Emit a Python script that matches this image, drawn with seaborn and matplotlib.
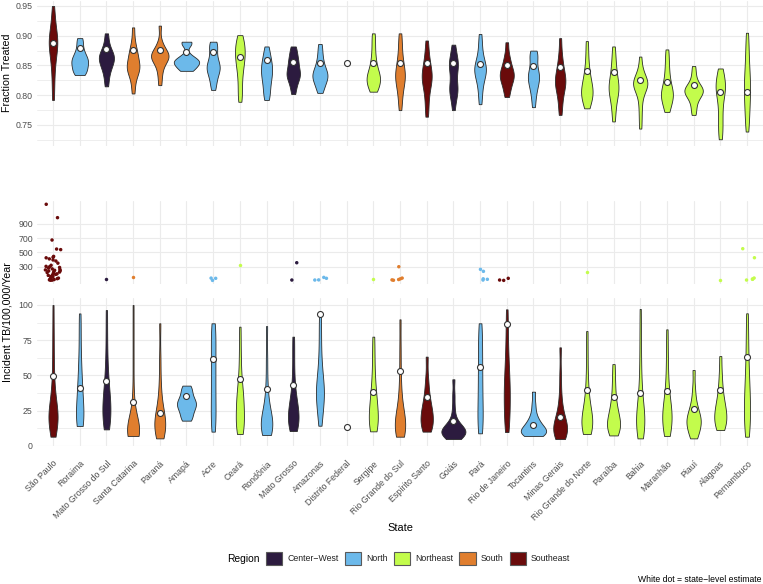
import numpy as np
import pandas as pd
import matplotlib
matplotlib.use("Agg")
import matplotlib.pyplot as plt
from matplotlib.patches import Patch
import seaborn as sns

# ---------------- data ----------------
states = ["São Paulo", "Roraima", "Mato Grosso do Sul", "Santa Catarina", "Paraná",
          "Amapá", "Acre", "Ceará", "Rondônia", "Mato Grosso", "Amazonas",
          "Distrito Federal", "Sergipe", "Rio Grande do Sul", "Espírito Santo", "Goiás",
          "Pará", "Rio de Janeiro", "Tocantins", "Minas Gerais", "Rio Grande do Norte",
          "Paraíba", "Bahia", "Maranhão", "Piauí", "Alagoas", "Pernambuco"]
regions = ["Southeast", "North", "Center-West", "South", "South",
           "North", "North", "Northeast", "North", "Center-West", "North",
           "Center-West", "Northeast", "South", "Southeast", "Center-West",
           "North", "Southeast", "North", "Southeast", "Northeast",
           "Northeast", "Northeast", "Northeast", "Northeast", "Northeast", "Northeast"]
region_order = ["Center-West", "North", "Northeast", "South", "Southeast"]
region_labels = ["Center\u2212West", "North", "Northeast", "South", "Southeast"]
region_colors = ["#2c1b3f", "#6cb9ea", "#c3fc4c", "#e07e2e", "#6a0b0b"]

# state-level estimates (white dots)
fraction_estimate = [0.8875, 0.880, 0.877, 0.876, 0.876, 0.873, 0.873, 0.864, 0.859, 0.856,
                     0.855, 0.855, 0.854, 0.854, 0.854, 0.854, 0.852, 0.851, 0.849, 0.847,
                     0.840, 0.839, 0.826, 0.823, 0.818, 0.806, 0.806]
incidence_estimate = [49.5, 41.2, 46.0, 31.3, 23.5, 35.3, 61.4, 47.2, 40.3, 43.4,
                      93.4, 13.5, 38.4, 53.0, 34.8, 17.8, 55.7, 86.3, 14.7, 20.1,
                      39.6, 34.4, 37.2, 39.1, 26.1, 39.6, 63.3]

# sub-state distributions: fraction treated
fraction_samples = [
    [0.792, 0.812, 0.830, 0.845, 0.856, 0.865, 0.872, 0.878, 0.883, 0.887, 0.891, 0.895, 0.900, 0.906, 0.913, 0.922, 0.935, 0.950],
    [0.834, 0.837, 0.841, 0.845, 0.849, 0.853, 0.856, 0.859, 0.862, 0.866, 0.871, 0.878, 0.888, 0.896],
    [0.815, 0.828, 0.838, 0.845, 0.850, 0.854, 0.858, 0.861, 0.864, 0.867, 0.870, 0.874, 0.880, 0.890, 0.904],
    [0.803, 0.818, 0.830, 0.837, 0.841, 0.844, 0.847, 0.850, 0.853, 0.858, 0.864, 0.869, 0.874, 0.880, 0.893, 0.914],
    [0.817, 0.832, 0.843, 0.852, 0.857, 0.860, 0.863, 0.865, 0.867, 0.869, 0.872, 0.875, 0.880, 0.890, 0.917],
    [0.841, 0.843, 0.846, 0.849, 0.852, 0.854, 0.856, 0.857, 0.858, 0.860, 0.863, 0.867, 0.886, 0.888, 0.890],
    [0.809, 0.818, 0.826, 0.833, 0.838, 0.842, 0.845, 0.848, 0.851, 0.855, 0.860, 0.867, 0.875, 0.882, 0.887, 0.890],
    [0.789, 0.800, 0.812, 0.825, 0.836, 0.845, 0.852, 0.858, 0.863, 0.868, 0.873, 0.878, 0.883, 0.888, 0.894, 0.901],
    [0.792, 0.800, 0.808, 0.816, 0.823, 0.829, 0.834, 0.839, 0.843, 0.848, 0.853, 0.858, 0.864, 0.872, 0.882],
    [0.802, 0.812, 0.820, 0.826, 0.830, 0.833, 0.836, 0.839, 0.843, 0.848, 0.853, 0.858, 0.862, 0.868, 0.876, 0.882],
    [0.804, 0.812, 0.818, 0.823, 0.827, 0.830, 0.833, 0.836, 0.839, 0.843, 0.848, 0.855, 0.863, 0.874, 0.886],
    [],
    [0.806, 0.810, 0.815, 0.819, 0.823, 0.826, 0.829, 0.832, 0.835, 0.839, 0.845, 0.853, 0.862, 0.875, 0.890, 0.904],
    [0.775, 0.790, 0.802, 0.812, 0.819, 0.825, 0.829, 0.833, 0.837, 0.842, 0.848, 0.855, 0.864, 0.876, 0.890, 0.904],
    [0.764, 0.780, 0.795, 0.807, 0.816, 0.822, 0.827, 0.831, 0.835, 0.840, 0.846, 0.853, 0.862, 0.875, 0.892],
    [0.775, 0.790, 0.800, 0.806, 0.810, 0.814, 0.820, 0.830, 0.840, 0.846, 0.850, 0.854, 0.858, 0.865, 0.875, 0.885],
    [0.785, 0.800, 0.812, 0.822, 0.829, 0.834, 0.838, 0.842, 0.845, 0.848, 0.852, 0.857, 0.864, 0.875, 0.888, 0.903],
    [0.797, 0.806, 0.814, 0.820, 0.825, 0.829, 0.832, 0.835, 0.838, 0.842, 0.847, 0.853, 0.860, 0.870, 0.889],
    [0.780, 0.795, 0.806, 0.814, 0.820, 0.825, 0.829, 0.833, 0.837, 0.842, 0.848, 0.862, 0.866, 0.870, 0.875],
    [0.767, 0.782, 0.795, 0.805, 0.812, 0.817, 0.821, 0.825, 0.829, 0.834, 0.840, 0.848, 0.858, 0.872, 0.896],
    [0.778, 0.786, 0.792, 0.797, 0.801, 0.805, 0.809, 0.813, 0.818, 0.824, 0.831, 0.840, 0.852, 0.870, 0.891],
    [0.756, 0.772, 0.785, 0.795, 0.802, 0.807, 0.811, 0.815, 0.820, 0.826, 0.833, 0.842, 0.853, 0.866, 0.882],
    [0.744, 0.762, 0.778, 0.792, 0.803, 0.809, 0.813, 0.816, 0.818, 0.820, 0.822, 0.824, 0.827, 0.831, 0.837, 0.847, 0.865],
    [0.772, 0.780, 0.787, 0.793, 0.797, 0.800, 0.803, 0.807, 0.812, 0.818, 0.826, 0.836, 0.848, 0.862, 0.877],
    [0.767, 0.776, 0.785, 0.792, 0.797, 0.800, 0.803, 0.805, 0.807, 0.809, 0.811, 0.813, 0.816, 0.820, 0.827, 0.837, 0.849],
    [0.726, 0.738, 0.750, 0.762, 0.775, 0.788, 0.798, 0.805, 0.810, 0.814, 0.818, 0.823, 0.830, 0.838, 0.845],
    [0.739, 0.752, 0.765, 0.776, 0.786, 0.795, 0.803, 0.811, 0.819, 0.827, 0.835, 0.845, 0.858, 0.872, 0.888, 0.905],
]

# sub-state distributions: incidence (values up to 100)
incidence_low = [
    [6.4, 10, 13, 15, 17, 18.5, 20, 21, 22.5, 24, 26, 29, 33, 38, 45, 55, 68, 82, 100],
    [14, 15, 17, 20, 23, 27, 31, 36, 41, 47, 55, 65, 80, 94],
    [11.6, 14, 17, 20, 23, 26, 29, 32, 35, 39, 44, 52, 62, 78, 96.4],
    [6.9, 7.3, 7.8, 8.3, 8.8, 9.3, 9.8, 10.3, 10.8, 11.3, 11.9, 12.6, 13.5, 14.8, 17, 21, 28, 40, 60, 80, 100],
    [5.2, 7, 9, 11, 13, 14.5, 16, 17.5, 19, 21, 24, 28, 35, 45, 62, 87],
    [17.8, 20, 23, 25.5, 27.5, 29, 30.5, 32, 34, 37, 40, 42.7],
    [10, 14, 19, 24, 30, 36, 42, 48, 54, 60, 66, 72, 78, 83, 87],
    [8.3, 10, 12, 14.5, 17, 20, 23, 26, 29, 32, 35, 38, 42, 48, 58, 70, 84.6],
    [7.6, 8.5, 10, 11.5, 13, 14.5, 16, 17.5, 19, 21, 24, 28, 34, 45, 62, 85],
    [10.4, 12, 14, 16, 18, 20, 22, 24, 26.5, 29, 32, 36, 42, 52, 65, 77.5],
    [14.2, 20, 26, 30, 33, 36, 38.5, 41, 44, 48, 53, 60, 70, 82, 93],
    [],
    [10.2, 12, 14, 16.5, 19, 22, 25, 28, 31, 35, 40, 46, 55, 66, 77.5],
    [6.4, 8, 9.5, 11, 12.5, 14, 15.5, 17, 19, 21.5, 25, 30, 38, 50, 68, 89.8],
    [10, 11.5, 13.5, 16, 18, 20, 22, 24.5, 27, 30, 34, 40, 48, 63.3],
    [4.7, 5.8, 6.8, 7.6, 8.3, 8.9, 9.4, 9.9, 10.4, 11, 11.6, 12.3, 13.2, 14.5, 16.5, 20, 27, 36, 47.2],
    [8.8, 12, 16, 21, 26, 31, 37, 43, 49, 55, 61, 68, 75, 81, 87],
    [9.7, 14, 19, 24, 28.5, 33, 37, 41, 45, 50, 56, 63, 72, 84, 96.9],
    [6.9, 7.6, 8.3, 9, 9.6, 10.2, 10.9, 11.7, 12.6, 14, 16, 17.5, 19.5, 24, 30, 38.4],
    [4.7, 6.5, 8, 9.3, 10.5, 11.5, 12.6, 13.8, 15.2, 17, 19.5, 23, 28, 36, 50, 69.9],
    [8.3, 10, 12, 13.5, 15, 16.5, 18, 20, 22, 25, 28.5, 33, 40, 50, 65, 81.5],
    [7.3, 9, 11, 13, 14.5, 16, 17.5, 19.5, 22, 25, 28.5, 33, 40, 48, 58],
    [5.2, 7.5, 10, 12.5, 15, 17, 19, 21, 23.5, 26, 30, 35, 42, 52, 65, 80, 97.2],
    [6.9, 9, 11.5, 14, 16.5, 19, 21, 23, 25, 27.5, 30, 34, 39, 46, 56, 68, 82.7],
    [5.2, 7.5, 10, 12.5, 14.5, 16, 17.5, 19, 20.5, 22.5, 25, 28, 33, 41, 53.8],
    [11.1, 13, 15, 17, 19, 21, 23, 25, 27.5, 30, 33.5, 38, 44, 52, 63.7],
    [6.4, 10, 14, 18, 22, 26, 30, 34, 38, 43, 48, 55, 63, 72, 83, 94.1],
]

# sub-state incidence values above 100 (upper strip)
incidence_high = [
    [1177, 989, 675, 548, 540, 445, 432, 425, 410, 395, 380, 350, 320, 305, 300, 290, 280,
     270, 262, 255, 250, 245, 240, 232, 225, 218, 210, 200, 192, 185, 178, 170, 162, 155,
     148, 140, 132, 125, 120, 115, 112, 110],
    [], [123], [159], [], [], [137, 140, 108], [328], [], [356, 113],
    [137, 113, 150, 115], [], [123], [300, 140, 130, 120, 115, 110], [], [],
    [235, 263, 130, 123, 113], [113, 108, 137], [], [], [220], [], [], [], [], [108],
    [553, 426, 141, 123, 113, 127],
]

frac_ticks = [0.75, 0.80, 0.85, 0.90, 0.95]
frac_minor = [0.725, 0.775, 0.825, 0.875, 0.925]
high_ticks = [300, 500, 700, 900]
low_ticks = [0, 25, 50, 75, 100]
low_minor = [12.5, 37.5, 62.5, 87.5]

# ---------------- tidy frames ----------------
def long_frame(samples):
    rows = []
    for s, r, vals in zip(states, regions, samples):
        for v in vals:
            rows.append((s, r, v))
    return pd.DataFrame(rows, columns=["state", "region", "value"])

df_frac = long_frame(fraction_samples)
df_low = long_frame(incidence_low)
df_high = long_frame(incidence_high)
est_frac = pd.DataFrame({"state": states, "value": fraction_estimate})
est_inc = pd.DataFrame({"state": states, "value": incidence_estimate})
palette = dict(zip(region_order, region_colors))

# ---------------- figure ----------------
sns.set_theme(style="white")
plt.rcParams["font.family"] = ["Liberation Sans", "DejaVu Sans"]

W, H = 763, 584
fig = plt.figure(figsize=(W / 100, H / 100), dpi=100)
fig.patch.set_facecolor("white")

def frac_rect(top_px, bottom_px, left_px=37, right_px=763):
    return [left_px / W, 1 - bottom_px / H, (right_px - left_px) / W, (bottom_px - top_px) / H]

ax_top = fig.add_axes(frac_rect(1, 146))
ax_mid = fig.add_axes(frac_rect(200.5, 283.8))
ax_bot = fig.add_axes(frac_rect(298.3, 445.8))

grid_col = "#ebebeb"
tick_col = "#4d4d4d"
vkw = dict(x="state", y="value", hue="region", order=states, hue_order=region_order,
           palette=palette, dodge=False, cut=0, inner=None, density_norm="area",
           common_norm=True, width=0.95, linewidth=0.6, linecolor="#2b2b2b",
           bw_adjust=0.7, saturation=1, legend=False)

sns.violinplot(data=df_frac, ax=ax_top, **vkw)
sns.stripplot(data=est_frac, x="state", y="value", order=states, jitter=False,
              color="white", edgecolor="#333333", linewidth=0.8, size=4.3, ax=ax_top, zorder=5)

np.random.seed(7)
sns.stripplot(data=df_high, x="state", y="value", hue="region", order=states,
              hue_order=region_order, palette=palette, jitter=0.3, size=2.5,
              linewidth=0, legend=False, ax=ax_mid)

sns.violinplot(data=df_low, ax=ax_bot, **vkw)
sns.stripplot(data=est_inc, x="state", y="value", order=states, jitter=False,
              color="white", edgecolor="#333333", linewidth=0.8, size=4.3, ax=ax_bot, zorder=5)

for ax in (ax_top, ax_mid, ax_bot):
    ax.set_xlim(-0.6, len(states) - 0.4)
    ax.set_xlabel("")
    ax.set_ylabel("")
    for sp in ax.spines.values():
        sp.set_visible(False)
    ax.set_facecolor("white")
    ax.set_axisbelow(True)
    ax.grid(True, which="major", color=grid_col, linewidth=0.8)
    ax.grid(True, which="minor", axis="y", color=grid_col, linewidth=0.6)
    ax.tick_params(axis="both", which="both", length=0, colors=tick_col, labelsize=6.3, pad=3)
    ax.set_xticks(range(len(states)))

ax_top.set_ylim(0.7147, 0.9584)
ax_top.set_yticks(frac_ticks)
ax_top.set_yticklabels([f"{t:.2f}" for t in frac_ticks])
ax_top.set_yticks(frac_minor, minor=True)
ax_top.set_xticklabels([])

ax_mid.set_ylim(60, 1230)
ax_mid.set_yticks(high_ticks)
ax_mid.set_yticklabels([str(t) for t in high_ticks])
ax_mid.set_xticklabels([])

ax_bot.set_ylim(-0.07, 104.76)
ax_bot.set_yticks(low_ticks)
ax_bot.set_yticklabels([str(t) for t in low_ticks])
ax_bot.set_yticks(low_minor, minor=True)
ax_bot.set_xticklabels(states, rotation=45, ha="right", va="top", rotation_mode="anchor")
ax_bot.tick_params(axis="x", pad=9.5, labelsize=6.3)

# axis titles
fig.text(7.5 / W, 1 - 73 / H, "Fraction Treated", rotation=90, ha="center", va="center",
         fontsize=7.7, color="black")
fig.text(7.5 / W, 1 - 322 / H, "Incident TB/100,000/Year", rotation=90, ha="center",
         va="center", fontsize=7.7, color="black")
fig.text(400 / W, 1 - 528 / H, "State", ha="center", va="center", fontsize=7.9, color="black")

# legend
fig.text(227 / W, 1 - 558.5 / H, "Region", ha="left", va="center", fontsize=7.4, color="black")
handles = [Patch(facecolor=c, edgecolor="#5a5a5a", linewidth=0.8) for c in region_colors]
fig.legend(handles, region_labels, loc="center left", bbox_to_anchor=(266 / W, 1 - 558.5 / H),
           ncol=5, frameon=False, fontsize=6.3, handlelength=1.85, handleheight=1.85,
           handletextpad=0.55, columnspacing=0.75, borderpad=0, borderaxespad=0,
           labelcolor="#222222")

fig.text(762 / W, 1 - 580 / H, "White dot = state\u2212level estimate", ha="right",
         va="center", fontsize=6.2, color="black")

fig.savefig("out.png", dpi=100, facecolor="white")
